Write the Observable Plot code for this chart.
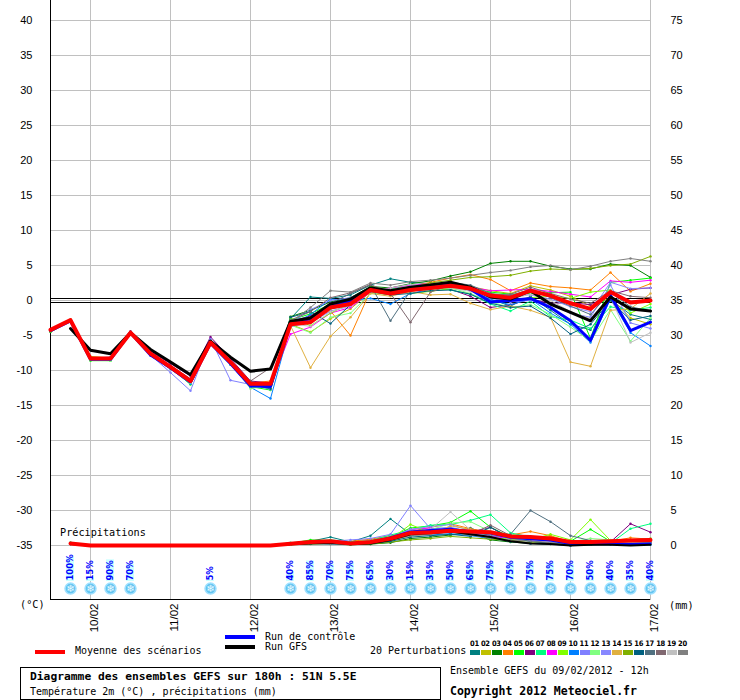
<!DOCTYPE html>
<html><head><meta charset="utf-8">
<script src="https://cdn.jsdelivr.net/npm/d3@7"></script>
<script src="https://cdn.jsdelivr.net/npm/@observablehq/plot@0.6"></script>
<style>
body{margin:0;background:#fff;}
#wrap{position:relative;width:740px;height:700px;overflow:hidden;font-family:"DejaVu Sans Mono",monospace;color:#000;}
#wrap svg{position:absolute;left:0;top:0;}
.abs{position:absolute;white-space:nowrap;line-height:1;}
</style></head><body><div id="wrap"></div>
<script>
// ---- time axis (hours since 09/02/2012 12h) ----
const hours = [0,6,12,18,24,30,36,42,48,54,60,66,72,78,84,90,96,102,108,114,120,126,132,138,144,150,156,162,168,174,180];
const dayHours = [12,36,60,84,108,132,156,180];
const dayLabels = ["10/02","11/02","12/02","13/02","14/02","15/02","16/02","17/02"];
const tempTicks = [-35,-30,-25,-20,-15,-10,-5,0,5,10,15,20,25,30,35,40];

const memberColors = ["#008080","#c0c000","#008000","#ff8000","#00ff00","#800080","#00ff80","#ff00ff","#80ff00","#0080ff",
                      "#8080ff","#80ff80","#8888ff","#e0b040","#80b000","#006080","#507080","#806870","#c0c0c0","#808080"];

// ---- temperature 2m (°C) ----
const tMean = [-4.2,-2.8,-8.3,-8.3,-4.6,-7.6,-9.5,-11.5,-6.0,-8.8,-11.9,-11.9,-3.4,-3.1,-1.0,-0.5,1.5,1.0,1.5,1.8,2.1,1.7,0.7,0.4,1.4,0.7,-0.4,-1.2,1.2,-0.3,0.0];
const tCtrl = [-4.3,-2.9,-8.4,-8.4,-4.6,-7.8,-9.6,-11.6,-6.1,-9.0,-12.2,-12.3,-3.2,-2.6,-0.8,0.0,1.6,1.2,1.8,2.0,2.3,1.6,-0.2,0.0,0.3,-1.0,-2.9,-5.7,0.7,-4.3,-3.1];
const tGfs  = [null,-4.0,-7.1,-7.6,-4.6,-7.0,-8.8,-10.6,-5.8,-8.1,-10.1,-9.8,-3.0,-2.5,-0.5,0.2,1.8,1.4,1.9,2.2,2.6,1.9,0.5,0.2,1.4,-0.5,-1.7,-2.9,0.5,-1.2,-1.5];
const t01 = [-4.3,-2.8,-8.2,-8.4,-4.5,-7.5,-9.3,-11.2,-5.7,-8.5,-11.6,-12.6,-2.6,0.5,0.3,0.8,2.2,3.1,2.6,2.4,2.2,1.5,0.2,-0.8,0.6,-1.4,-3.4,-4.2,0.1,-2.0,-2.7];
const t02 = [-4.1,-2.7,-8.0,-8.2,-4.7,-7.4,-9.6,-11.6,-6.3,-9.0,-12.4,-12.0,-3.4,-4.5,-2.6,-1.2,1.2,0.8,1.6,2.0,2.4,2.0,1.4,1.0,2.1,1.5,0.6,-0.8,0.4,-2.5,-3.4];
const t03 = [-4.5,-2.9,-8.5,-8.3,-4.6,-7.7,-9.4,-11.4,-6.2,-8.7,-12.0,-12.4,-2.3,-1.4,-0.2,0.4,2.0,1.8,2.4,2.8,3.5,4.1,5.3,5.6,5.6,4.9,4.5,4.5,5.2,5.0,3.3];
const t04 = [-4.2,-2.8,-8.4,-8.5,-4.6,-7.8,-9.7,-11.8,-6.0,-8.9,-11.8,-11.5,-3.8,-2.6,-1.5,-5.0,1.4,1.6,2.0,2.6,3.2,3.7,3.0,1.4,2.5,2.0,1.8,1.5,4.0,1.3,2.4];
const t05 = [-4.4,-3.0,-8.6,-8.6,-4.6,-7.7,-9.6,-12.0,-6.2,-9.1,-12.3,-12.8,-2.8,-1.9,-0.5,0.2,1.8,1.3,1.4,1.7,2.2,1.8,1.2,0.9,1.0,1.1,1.2,-5.4,2.6,2.9,3.2];
const t06 = [-4.2,-2.8,-8.2,-8.1,-4.4,-7.3,-9.0,-10.8,-5.2,-8.3,-11.5,-11.8,-3.0,-2.2,-0.6,0.0,1.6,1.0,1.5,1.8,1.6,0.6,-1.0,-0.6,0.2,-0.4,-0.3,-0.6,0.8,1.6,1.8];
const t07 = [-4.3,-2.9,-8.3,-8.4,-4.7,-7.7,-9.6,-11.6,-6.1,-8.9,-12.1,-12.2,-3.2,-2.9,-1.2,-0.6,1.3,1.6,2.3,2.0,1.5,0.9,-0.5,-1.5,-0.1,-2.3,-2.8,-4.0,-0.9,-1.4,-1.0];
const t08 = [-4.1,-2.8,-8.2,-8.3,-4.6,-7.5,-9.4,-11.4,-5.9,-8.6,-11.8,-12.0,-4.8,-3.8,-1.8,-1.0,1.2,1.8,2.2,2.4,2.0,1.9,1.4,1.5,1.6,1.3,0.9,0.5,2.8,2.6,2.9];
const t09 = [-4.4,-2.9,-8.4,-8.4,-4.6,-7.6,-9.6,-11.7,-6.1,-8.9,-12.0,-12.5,-2.5,-3.6,-1.8,-0.4,1.9,1.5,1.0,1.3,1.7,1.5,0.9,0.0,0.4,0.6,0.3,1.2,1.5,-1.8,-0.5];
const t10 = [-4.3,-2.9,-8.4,-8.5,-4.7,-7.9,-9.8,-11.9,-6.3,-9.2,-12.4,-14.0,-3.6,-2.0,0.2,0.0,0.3,-0.5,1.0,1.6,2.0,1.8,0.1,-0.6,0.2,-1.8,-3.4,-6.0,0.2,-4.6,-6.5];
const t11 = [-4.2,-2.8,-8.3,-8.2,-4.6,-7.8,-10.3,-12.9,-5.5,-11.4,-12.0,-12.7,-3.3,-1.3,0.0,0.4,1.7,1.3,1.8,2.2,1.9,1.6,0.3,-0.2,0.0,-0.6,-1.8,-2.4,2.2,-3.2,-4.0];
const t12 = [-4.3,-2.9,-8.5,-8.6,-4.6,-7.7,-9.6,-11.7,-6.0,-8.9,-12.6,-12.1,-3.5,-4.6,-2.4,-1.8,1.0,0.9,1.4,1.5,1.8,1.0,-0.2,-1.0,-0.6,-2.0,-3.8,-5.8,-1.3,-5.8,-2.5];
const t13 = [-4.2,-2.8,-8.3,-8.3,-4.6,-7.6,-9.5,-11.5,-6.0,-8.9,-12.1,-12.3,-3.7,-3.2,-1.5,-0.8,1.5,1.4,2.0,2.3,2.5,1.4,0.4,0.8,0.8,0.2,-0.9,-1.6,2.6,1.7,1.8];
const t14 = [-4.2,-2.8,-8.3,-8.3,-4.6,-7.5,-9.4,-11.6,-6.1,-8.8,-12.2,-12.4,-3.6,-9.6,-5.1,-2.4,1.0,0.6,1.3,0.8,0.9,-0.4,-1.3,-0.8,-1.4,-2.4,-8.8,-9.4,-1.4,-1.2,1.0];
const t15 = [-4.3,-2.9,-8.4,-8.3,-4.5,-7.6,-9.5,-11.6,-6.0,-8.8,-12.0,-12.2,-3.1,-2.4,-0.8,0.0,1.6,1.2,1.8,2.5,2.9,3.3,3.4,3.6,4.2,4.5,4.4,4.6,5.0,5.2,6.3];
const t16 = [-4.2,-2.8,-8.3,-8.3,-4.6,-7.6,-9.5,-11.5,-6.0,-8.9,-12.0,-12.6,-2.4,-1.6,-3.3,-0.6,1.3,0.8,1.0,1.4,1.5,0.9,-0.4,-1.0,-0.8,-2.5,-4.8,-3.4,0.0,-2.8,-2.2];
const t17 = [-4.2,-2.8,-8.3,-8.3,-4.6,-7.6,-9.5,-11.5,-6.0,-8.8,-11.6,-12.0,-3.0,-2.6,-0.4,1.0,2.2,-2.9,1.4,2.0,2.6,2.2,1.0,0.7,1.6,0.4,-0.8,-2.0,1.2,-0.9,-1.5];
const t18 = [-4.2,-2.8,-8.3,-8.3,-4.6,-7.6,-9.5,-11.4,-5.9,-8.7,-11.5,-9.6,-2.8,-1.6,0.4,1.1,2.3,1.0,-3.1,1.2,2.2,1.8,0.8,0.9,1.9,1.0,0.2,-0.4,1.4,0.6,0.4];
const t19 = [-4.3,-2.8,-8.3,-8.4,-4.6,-7.7,-9.6,-11.7,-6.1,-9.0,-12.2,-12.3,-3.3,-3.7,-1.6,-0.7,1.5,1.8,2.3,2.0,1.8,1.3,0.5,0.2,0.9,0.0,-1.6,-2.6,0.5,-6.0,-4.6];
const t20 = [-4.2,-2.8,-8.3,-8.3,-4.6,-7.6,-9.5,-11.5,-6.0,-8.9,-12.0,-11.8,-3.1,-1.0,1.4,1.2,2.5,2.2,2.7,2.9,3.2,3.6,4.0,4.3,4.8,5.0,4.4,4.9,5.6,6.0,5.6];

// ---- precipitation (mm / 6h) ----
const pMean = [null,0.3,0,0,0,0,0,0,0,0,0,0,0.25,0.5,0.6,0.3,0.5,1.0,1.8,1.9,2.1,2.0,1.9,1.3,1.2,1.0,0.5,0.5,0.6,0.7,0.8];
const pCtrl = [null,0.3,0,0,0,0,0,0,0,0,0,0,0.3,0.5,0.6,0.3,0.5,1.2,2.0,2.2,2.4,2.0,1.7,1.1,0.9,0.7,0.2,0.2,0.3,0.2,0.3];
const pGfs  = [null,0.2,0,0,0,0,0,0,0,0,0,0,0.2,0.3,0.4,0.2,0.3,0.8,1.6,1.8,2.0,1.6,1.2,0.6,0.3,0.2,0.0,0.1,0.1,0.0,0.1];
const p01 = [null,0.3,0,0,0,0,0,0,0,0,0,0,0.2,0.6,1.2,0.5,1.4,3.8,1.6,2.2,1.8,2.5,1.4,1.1,0.6,0.3,0.2,0.4,0.2,0.1,0.3];
const p02 = [null,0.2,0,0,0,0,0,0,0,0,0,0,0.3,0.4,0.3,0.2,0.3,0.6,1.5,1.7,2.4,1.6,1.2,0.7,0.9,1.3,0.4,0.2,0.5,0.4,0.6];
const p03 = [null,0.4,0,0,0,0,0,0,0,0,0,0,0.1,0.3,0.2,0.1,0.2,0.4,1.0,1.2,1.5,1.8,0.8,0.5,0.3,0.2,0.0,0.1,0.3,0.2,0.4];
const p04 = [null,0.3,0,0,0,0,0,0,0,0,0,0,0.2,0.5,0.4,0.6,0.9,1.4,2.0,2.6,3.1,2.4,1.8,1.5,2.0,1.4,0.5,0.7,0.6,1.1,0.9];
const p05 = [null,0.3,0,0,0,0,0,0,0,0,0,0,0.3,0.8,0.7,0.4,0.6,1.2,2.5,2.8,3.3,4.9,2.6,1.2,1.0,0.8,0.6,2.3,0.6,0.5,0.6];
const p06 = [null,0.2,0,0,0,0,0,0,0,0,0,0,0.2,0.4,0.6,0.5,0.4,1.1,1.8,2.0,2.2,1.9,2.6,1.0,0.8,0.6,0.3,0.2,0.5,3.1,1.9];
const p07 = [null,0.4,0,0,0,0,0,0,0,0,0,0,0.4,0.6,0.8,0.5,0.7,1.5,2.2,2.9,3.0,3.6,4.4,1.8,1.2,0.9,0.5,0.4,0.3,2.4,3.1];
const p08 = [null,0.3,0,0,0,0,0,0,0,0,0,0,0.2,0.5,0.4,0.3,0.5,1.0,2.3,2.5,2.1,1.7,1.3,1.0,0.7,0.5,0.2,0.3,0.4,0.3,0.6];
const p09 = [null,0.3,0,0,0,0,0,0,0,0,0,0,0.3,0.4,0.5,0.4,0.6,0.9,3.0,1.8,2.0,1.5,1.1,0.9,0.8,1.6,0.8,3.7,0.7,0.4,0.8];
const p10 = [null,0.2,0,0,0,0,0,0,0,0,0,0,0.1,0.3,0.2,0.2,0.3,0.8,1.6,1.5,1.7,1.4,1.0,0.6,0.3,0.2,0.0,0.1,0.1,0.2,0.1];
const p11 = [null,0.3,0,0,0,0,0,0,0,0,0,0,0.2,0.5,0.6,0.8,1.0,1.6,5.7,2.4,2.6,2.0,1.5,1.3,0.9,0.6,0.3,0.4,0.5,0.4,0.6];
const p12 = [null,0.3,0,0,0,0,0,0,0,0,0,0,0.3,0.5,0.4,0.3,0.5,1.3,1.9,2.2,3.2,3.4,2.0,1.6,1.1,0.9,0.5,1.0,0.8,0.5,0.7];
const p13 = [null,0.2,0,0,0,0,0,0,0,0,0,0,0.2,0.4,0.5,0.3,0.6,1.2,2.3,2.7,3.0,2.1,1.7,1.2,1.0,0.8,0.4,0.3,0.6,0.5,0.8];
const p14 = [null,0.3,0,0,0,0,0,0,0,0,0,0,0.2,0.3,0.3,0.2,0.4,0.7,1.4,1.6,2.8,2.3,1.9,1.4,1.2,1.0,0.3,0.5,0.4,0.6,0.7];
const p15 = [null,0.2,0,0,0,0,0,0,0,0,0,0,0.1,0.2,0.3,0.2,0.2,0.5,0.8,1.0,1.3,1.1,0.9,0.7,0.4,0.3,0.1,0.2,0.5,0.8,1.0];
const p16 = [null,0.3,0,0,0,0,0,0,0,0,0,0,0.2,0.4,0.3,0.2,0.3,0.6,1.2,1.4,1.6,1.3,2.6,1.1,0.6,0.4,0.2,0.1,0.2,0.3,0.2];
const p17 = [null,0.3,0,0,0,0,0,0,0,0,0,0,0.3,0.5,0.6,0.4,0.5,1.1,1.7,2.0,2.2,1.8,1.5,1.6,5.0,3.4,1.4,0.7,0.5,0.4,0.3];
const p18 = [null,0.2,0,0,0,0,0,0,0,0,0,0,0.2,0.4,0.5,0.3,0.4,0.9,1.8,2.1,2.3,1.6,2.9,1.4,1.0,0.8,0.3,0.2,0.4,0.5,0.4];
const p19 = [null,0.3,0,0,0,0,0,0,0,0,0,0,0.2,0.3,0.4,0.3,0.5,1.0,2.0,2.3,4.8,2.2,1.6,1.0,0.8,0.5,0.3,0.2,0.3,0.4,0.3];
const p20 = [null,0.2,0,0,0,0,0,0,0,0,0,0,0.2,0.3,0.2,0.3,0.4,0.8,1.4,1.6,1.9,1.5,1.1,0.8,0.6,0.4,0.2,0.3,0.5,0.6,0.4];

// ---- snow probability ----
const snowHours = [6,12,18,24,48,72,78,84,90,96,102,108,114,120,126,132,138,144,150,156,162,168,174,180];
const snowPct   = [100,15,90,70,5,40,85,70,75,65,30,15,35,50,65,75,75,75,75,70,50,40,35,40];

// ---- layout constants ----
const Y_TOP = 300 / 7;        // plot spans ±42.86 °C
const PRECIP_ZERO = -35;      // 0 mm sits at -35 °C
const BAR_BASE = -40.15;
const BAR_LEN = 3.45;
const SNOW_Y = -41.15;

const tempSeries = [t01,t02,t03,t04,t05,t06,t07,t08,t09,t10,t11,t12,t13,t14,t15,t16,t17,t18,t19,t20];
const precSeries = [p01,p02,p03,p04,p05,p06,p07,p08,p09,p10,p11,p12,p13,p14,p15,p16,p17,p18,p19,p20];

function toRows(series){
  const rows = [];
  series.forEach((arr,k)=>arr.forEach((v,i)=>{ if(v!=null) rows.push({h:hours[i], v, k, c:memberColors[k]}); }));
  return rows;
}
function single(arr){ return arr.map((v,i)=>({h:hours[i], v})).filter(d=>d.v!=null); }

const tRows = toRows(tempSeries);
const pRows = toRows(precSeries);
const snowRows = snowHours.map((h,i)=>({h, p:snowPct[i]}));
const py = d => PRECIP_ZERO + d.v;

const plot = Plot.plot({
  width: 740, height: 640,
  marginLeft: 50, marginRight: 90, marginTop: 0, marginBottom: 40,
  style: {fontFamily: "Liberation Sans, sans-serif", fontSize: "11px", background: "#fff", overflow: "visible"},
  x: {domain: [0, 180], axis: null},
  y: {domain: [-Y_TOP, Y_TOP], axis: null},
  color: {type: "identity"},
  marks: [
    Plot.gridY(tempTicks, {stroke: "#c0c0c0", strokeOpacity: 1}),
    Plot.gridX(dayHours, {stroke: "#c0c0c0", strokeOpacity: 1}),
    Plot.ruleY([0], {stroke: "#000", dy: -2}),
    Plot.ruleY([0], {stroke: "#000", dy: 2}),
    Plot.ruleX([0], {stroke: "#000"}),
    Plot.ruleY([-Y_TOP], {stroke: "#000", dy: -1}),
    // temperature members
    Plot.line(tRows, {x: "h", y: "v", z: "k", stroke: "c", strokeWidth: 1}),
    Plot.dot(tRows, {x: "h", y: "v", fill: "c", r: 1.2}),
    // precipitation members
    Plot.line(pRows, {x: "h", y: py, z: "k", stroke: "c", strokeWidth: 1}),
    Plot.dot(pRows, {x: "h", y: py, fill: "c", r: 1.2}),
    // control / GFS / mean
    Plot.line(single(pCtrl), {x: "h", y: py, stroke: "#0000ff", strokeWidth: 2}),
    Plot.line(single(pGfs), {x: "h", y: py, stroke: "#000", strokeWidth: 2}),
    Plot.line(single(pMean), {x: "h", y: py, stroke: "#ff0000", strokeWidth: 4}),
    Plot.line(single(tCtrl), {x: "h", y: "v", stroke: "#0000ff", strokeWidth: 3}),
    Plot.line(single(tGfs), {x: "h", y: "v", stroke: "#000", strokeWidth: 3}),
    Plot.line(single(tMean), {x: "h", y: "v", stroke: "#ff0000", strokeWidth: 4}),
    // snow probability
    Plot.rect(snowRows, {x1: d => d.h - 1.2, x2: d => d.h + 1.2, y1: () => BAR_BASE, y2: d => BAR_BASE + BAR_LEN * d.p / 100, fill: "#ccffff"}),
    Plot.text(snowRows, {x: "h", y: () => BAR_BASE, text: d => d.p + "%", rotate: -90, textAnchor: "start", dy: -1, fill: "#0000ff", fontSize: 8.5, fontWeight: "bold", fontFamily: "DejaVu Sans"}),
    Plot.dot(snowRows, {x: "h", y: () => SNOW_Y, r: 5.5, fill: "#62c4f0", stroke: "#9fe0ff"}),
    Plot.text(snowRows, {x: "h", y: () => SNOW_Y, text: () => "\u2744", fill: "#e8f8ff", fontSize: 10, fontFamily: "DejaVu Sans"}),
    // axes
    Plot.axisY(tempTicks, {anchor: "left", tickSize: 0, tickPadding: 18, tickFormat: d => String(d), label: null}),
    Plot.axisY(tempTicks, {anchor: "right", tickSize: 0, tickPadding: 20, tickFormat: d => String(d - PRECIP_ZERO), label: null}),
    Plot.text(dayHours, {x: d => d, text: (d, i) => dayLabels[i], frameAnchor: "bottom", rotate: -90, textAnchor: "end", dy: 3, dx: 7, fontSize: 11.5})
  ]
});

const wrap = document.getElementById("wrap");
wrap.appendChild(plot);

function label(txt, left, top, size, extra){
  const d = document.createElement("div");
  d.className = "abs";
  d.textContent = txt;
  d.style.left = left + "px";
  d.style.top = top + "px";
  d.style.fontSize = size + "px";
  if (extra) Object.assign(d.style, extra);
  wrap.appendChild(d);
  return d;
}
function box(left, top, w, h, style){
  const d = document.createElement("div");
  d.className = "abs";
  d.style.left = left + "px"; d.style.top = top + "px";
  d.style.width = w + "px"; d.style.height = h + "px";
  Object.assign(d.style, style);
  wrap.appendChild(d);
  return d;
}

label("Précipitations", 60, 528, 10.2);
label("(°C)", 20, 600, 10.2);
label("(mm)", 669, 601, 10.2);

// legend: lines
box(35, 650, 30, 4, {background: "#ff0000"});
label("Moyenne des scénarios", 75, 646, 10);
box(225, 635, 30, 4, {background: "#0000ff"});
label("Run de contrôle", 265, 632, 10);
box(225, 645, 30, 4, {background: "#000"});
label("Run GFS", 265, 642, 10);
label("20 Perturbations", 370, 646, 10);
memberColors.forEach((c, i) => {
  const x = 470 + i * 10.95;
  box(x, 650, 10, 5, {background: c});
  label(String(i + 1).padStart(2, "0"), x, 640, 7.5, {fontWeight: "bold", fontFamily: "DejaVu Sans Condensed, DejaVu Sans", letterSpacing: "-0.3px"});
});

// title boxes
box(20, 667, 419, 31, {border: "1px solid #000", background: "#fff"});
label("Diagramme des ensembles GEFS sur 180h : 51N 5.5E", 30, 671, 11.3, {fontWeight: "bold"});
label("Température 2m (°C) , précipitations (mm)", 30, 687, 10);
label("Ensemble GEFS du 09/02/2012 - 12h", 450, 666, 10);
label("Copyright 2012 Meteociel.fr", 450, 686, 11.5, {fontWeight: "bold"});
</script></body></html>
